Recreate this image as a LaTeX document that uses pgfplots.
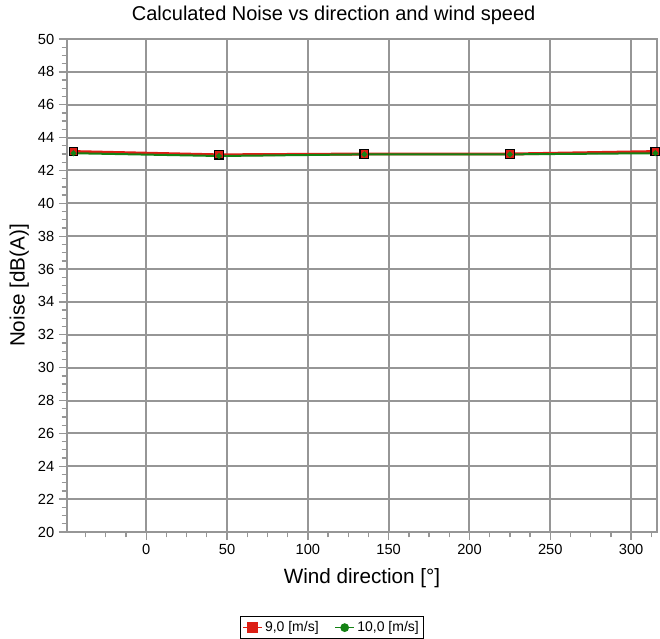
\documentclass[border=0pt]{standalone}
\usepackage{fontspec}
\setmainfont{Liberation Sans}
\usepackage{pgfplots}
\pgfplotsset{compat=1.18}
\definecolor{gridgray}{RGB}{150,150,150}
\definecolor{rd}{RGB}{220,30,20}
\definecolor{gr}{RGB}{20,130,20}
\begin{document}
\begin{tikzpicture}
\begin{axis}[
  scale only axis,
  width=442.5pt, height=369.75pt,
  xmin=-49, xmax=316, ymin=20, ymax=50,
  xtick={0,50,...,300},
  minor xtick={-37.5,-25,-12.5,12.5,25,37.5,62.5,75,87.5,112.5,125,137.5,162.5,175,187.5,212.5,225,237.5,262.5,275,287.5,312.5},
  ytick={20,22,...,50},
  minor y tick num=3,
  grid=major,
  major grid style={gridgray, line width=1.5pt},
  axis line style={gridgray, line width=1.5pt},
  tick style={gridgray, line width=1pt},
  tick align=outside,
  major tick length=6pt,
  minor tick length=4pt,
  xtick pos=bottom, ytick pos=left,
  /pgf/number format/assume math mode=true,
  tick label style={font=\fontsize{11}{13}\selectfont, text=black},
  xlabel={Wind direction [°]},
  ylabel={Noise [dB(A)]},
  label style={font=\fontsize{15.5}{18}\selectfont},
  xlabel style={yshift=-3pt},
  ylabel style={yshift=0pt},
  title={Calculated Noise vs direction and wind speed},
  title style={at={(0.452,1)}, font=\fontsize{15}{18}\selectfont, yshift=1pt},
  legend style={at={(rel axis cs:0.449,-0.194)}, anchor=center, draw=black, line width=0.8pt,
    font=\fontsize{10.5}{12}\selectfont, legend columns=2, inner sep=1.5pt,
    /tikz/every even column/.append style={column sep=10pt}},
  legend cell align=left,
]
\addplot[rd, line width=2.2pt, mark=square*, mark size=3.2pt, mark options={draw=black, fill=rd, line width=1pt},
  legend image code/.code={\draw[rd, line width=1pt] (0pt,0pt) -- (14pt,0pt); \fill[rd] (4pt,-3pt) rectangle (10pt,3pt);}]
  coordinates {(-45,43.15) (45,42.95) (135,43.0) (225,43.0) (315,43.15)};
\addlegendentry{9,0 [m/s]}
\addplot[gr, line width=1.5pt, mark=*, mark size=1.3pt, mark options={draw=gr, fill=gr},
  legend image code/.code={\draw[gr, line width=1pt] (0pt,0pt) -- (14pt,0pt); \fill[gr] (7pt,0pt) circle (2.5pt);}]
  coordinates {(-45,43.05) (45,42.88) (135,42.98) (225,42.98) (315,43.05)};
\addlegendentry{10,0 [m/s]}
\coordinate (bl) at (rel axis cs:0,0);
\coordinate (tr) at (rel axis cs:1,1);
\end{axis}
\pgfresetboundingbox
\path[use as bounding box] ([xshift=-50.25pt,yshift=-80.25pt]bl) rectangle ([xshift=2.25pt,yshift=29.25pt]tr);
\end{tikzpicture}
\end{document}
